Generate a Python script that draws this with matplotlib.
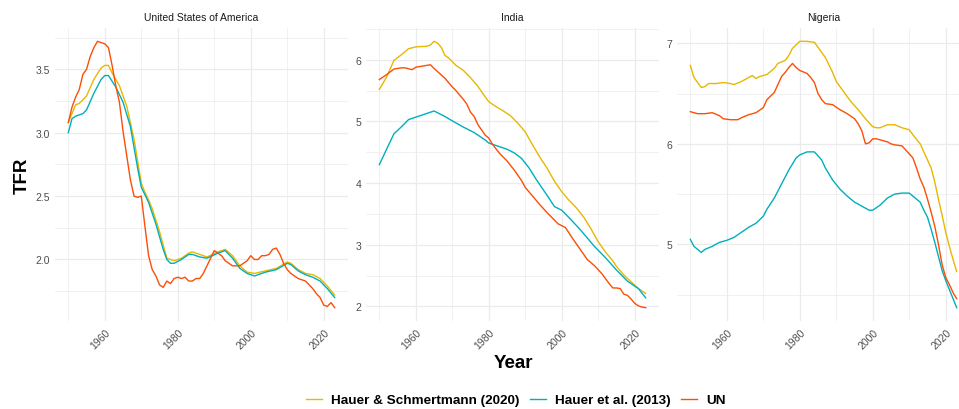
import matplotlib
matplotlib.use("Agg")
import matplotlib.pyplot as plt
from matplotlib.ticker import MultipleLocator
from matplotlib.lines import Line2D

plt.rcParams['font.family'] = ['Liberation Sans', 'DejaVu Sans']

# series names and colours
labels = ["Hauer & Schmertmann (2020)", "Hauer et al. (2013)", "UN"]
colors = ["#E7B800", "#00AFBB", "#FC4E07"]

###
# United States of America
###
usa_hs_years = [1950, 1952, 1953, 1955, 1957, 1959, 1960, 1961, 1962, 1964,
                1966, 1968, 1970, 1971, 1972, 1973, 1975, 1977, 1979, 1981,
                1983, 1984, 1986, 1988, 1991, 1993, 1995, 1997, 1999, 2001,
                2004, 2007, 2010, 2011, 2013, 2015, 2017, 2019, 2021, 2023]
usa_hs_tfr = [3.08, 3.22, 3.23, 3.29, 3.42, 3.51, 3.53, 3.53, 3.47, 3.37,
              3.21, 2.95, 2.60, 2.53, 2.47, 2.40, 2.22, 2.01, 1.99, 2.01,
              2.05, 2.06, 2.04, 2.02, 2.06, 2.08, 2.03, 1.95, 1.90, 1.89,
              1.91, 1.93, 1.98, 1.97, 1.92, 1.89, 1.88, 1.85, 1.79, 1.72]

usa_h13_years = [1950, 1951, 1952, 1954, 1955, 1957, 1959, 1960, 1961, 1963,
                 1965, 1967, 1969, 1970, 1972, 1974, 1976, 1977, 1978, 1979,
                 1981, 1983, 1984, 1986, 1988, 1991, 1993, 1995, 1997, 1999,
                 2001, 2004, 2007, 2010, 2011, 2013, 2015, 2017, 2019, 2021,
                 2023]
usa_h13_tfr = [3.00, 3.11, 3.13, 3.15, 3.18, 3.31, 3.42, 3.45, 3.45, 3.36,
               3.24, 3.05, 2.72, 2.57, 2.45, 2.28, 2.08, 2.00, 1.97, 1.97,
               2.00, 2.04, 2.04, 2.02, 2.01, 2.05, 2.07, 2.01, 1.93, 1.89,
               1.87, 1.90, 1.92, 1.97, 1.96, 1.91, 1.88, 1.86, 1.83, 1.77,
               1.70]

usa_un_years = list(range(1950, 2024))
usa_un_tfr = [3.08, 3.20, 3.28, 3.34, 3.46, 3.50, 3.60, 3.67, 3.72, 3.71,
              3.70, 3.67, 3.53, 3.37, 3.24, 3.01, 2.82, 2.63, 2.50, 2.49,
              2.50, 2.26, 2.03, 1.92, 1.87, 1.80, 1.78, 1.83, 1.81, 1.85,
              1.86, 1.85, 1.86, 1.83, 1.83, 1.85, 1.85, 1.89, 1.95, 2.01,
              2.07, 2.05, 2.03, 1.99, 1.97, 1.95, 1.95, 1.95, 1.97, 1.99,
              2.03, 2.00, 2.00, 2.03, 2.03, 2.04, 2.08, 2.09, 2.04, 1.97,
              1.92, 1.89, 1.87, 1.85, 1.84, 1.83, 1.80, 1.77, 1.73, 1.70,
              1.64, 1.63, 1.66, 1.62]

###
# India
###
ind_hs_years = [1950, 1952, 1954, 1956, 1958, 1960, 1963, 1964, 1965, 1966,
                1967, 1968, 1969, 1971, 1973, 1975, 1977, 1979, 1980, 1982,
                1984, 1986, 1988, 1990, 1992, 1994, 1996, 1998, 2000, 2002,
                2004, 2006, 2008, 2010, 2012, 2014, 2015, 2017, 2019, 2021,
                2023]
ind_hs_tfr = [5.52, 5.72, 5.99, 6.08, 6.18, 6.21, 6.22, 6.24, 6.30, 6.27,
              6.20, 6.07, 6.03, 5.91, 5.83, 5.71, 5.57, 5.40, 5.32, 5.24,
              5.17, 5.09, 4.97, 4.83, 4.62, 4.42, 4.24, 4.03, 3.86, 3.72,
              3.60, 3.45, 3.26, 3.05, 2.88, 2.74, 2.65, 2.51, 2.40, 2.29,
              2.21]

ind_h13_years = [1950, 1952, 1954, 1956, 1958, 1961, 1963, 1965, 1966, 1968,
                 1970, 1973, 1976, 1979, 1980, 1982, 1985, 1987, 1989, 1991,
                 1993, 1996, 1998, 2000, 2002, 2005, 2009, 2012, 2015, 2018,
                 2021, 2023]
ind_h13_tfr = [4.30, 4.55, 4.80, 4.91, 5.03, 5.09, 5.13, 5.17, 5.14, 5.08,
               5.01, 4.91, 4.82, 4.70, 4.65, 4.61, 4.55, 4.49, 4.40, 4.25,
               4.06, 3.80, 3.62, 3.56, 3.44, 3.25, 2.97, 2.79, 2.59, 2.41,
               2.29, 2.14]

ind_un_years = [1950, 1952, 1954, 1956, 1957, 1959, 1960, 1962, 1964, 1965,
                1968, 1970, 1971, 1973, 1974, 1975, 1976, 1977, 1979, 1980,
                1981, 1983, 1984, 1985, 1987, 1989, 1990, 1992, 1994, 1996,
                1998, 1999, 2001, 2003, 2005, 2007, 2009, 2011, 2012, 2013,
                2014, 2015, 2016, 2017, 2018, 2019, 2020, 2021, 2022, 2023]
ind_un_tfr = [5.68, 5.76, 5.85, 5.87, 5.87, 5.84, 5.88, 5.90, 5.92, 5.86,
              5.70, 5.56, 5.50, 5.36, 5.28, 5.15, 5.08, 4.95, 4.78, 4.73,
              4.63, 4.48, 4.42, 4.36, 4.21, 4.04, 3.93, 3.79, 3.65, 3.52,
              3.40, 3.34, 3.28, 3.10, 2.93, 2.76, 2.66, 2.53, 2.45, 2.37,
              2.30, 2.30, 2.29, 2.20, 2.18, 2.12, 2.05, 2.01, 1.99, 1.98]

###
# Nigeria
###
nga_hs_years = [1950, 1951, 1953, 1954, 1955, 1957, 1959, 1961, 1962, 1964,
                1965, 1967, 1968, 1969, 1971, 1973, 1974, 1976, 1977, 1978,
                1980, 1982, 1984, 1985, 1987, 1989, 1990, 1992, 1994, 1996,
                1998, 2000, 2001, 2002, 2004, 2006, 2008, 2010, 2011, 2013,
                2014, 2016, 2017, 2018, 2019, 2020, 2021, 2022, 2023]
nga_hs_tfr = [6.78, 6.66, 6.56, 6.57, 6.60, 6.60, 6.61, 6.60, 6.59, 6.62,
              6.64, 6.68, 6.65, 6.67, 6.69, 6.75, 6.80, 6.83, 6.88, 6.95,
              7.02, 7.02, 7.01, 6.96, 6.86, 6.71, 6.62, 6.52, 6.42, 6.34,
              6.25, 6.17, 6.16, 6.16, 6.19, 6.19, 6.16, 6.14, 6.09, 6.00,
              5.92, 5.76, 5.62, 5.45, 5.29, 5.12, 4.98, 4.85, 4.73]

nga_h13_years = [1950, 1951, 1953, 1954, 1956, 1958, 1960, 1962, 1964, 1966,
                 1968, 1970, 1971, 1973, 1975, 1977, 1979, 1980, 1982, 1984,
                 1986, 1987, 1989, 1991, 1993, 1995, 1997, 1999, 2000, 2002,
                 2004, 2006, 2008, 2010, 2012, 2013, 2014, 2015, 2016, 2017,
                 2018, 2019, 2020, 2021, 2022, 2023]
nga_h13_tfr = [5.05, 4.98, 4.92, 4.95, 4.98, 5.02, 5.04, 5.07, 5.12, 5.17,
               5.21, 5.28, 5.35, 5.46, 5.60, 5.74, 5.86, 5.89, 5.92, 5.92,
               5.84, 5.76, 5.64, 5.55, 5.48, 5.42, 5.38, 5.34, 5.34, 5.39,
               5.46, 5.50, 5.51, 5.51, 5.45, 5.42, 5.34, 5.27, 5.15, 5.02,
               4.88, 4.74, 4.64, 4.55, 4.46, 4.37]

nga_un_years = [1950, 1951, 1952, 1954, 1956, 1958, 1959, 1961, 1963, 1964,
                1966, 1968, 1970, 1971, 1973, 1974, 1975, 1976, 1977, 1978,
                1979, 1980, 1982, 1983, 1984, 1985, 1986, 1987, 1989, 1991,
                1993, 1995, 1996, 1997, 1998, 1999, 2000, 2001, 2002, 2004,
                2005, 2006, 2008, 2009, 2011, 2012, 2013, 2014, 2015, 2016,
                2017, 2018, 2019, 2020, 2021, 2022, 2023]
nga_un_tfr = [6.32, 6.31, 6.30, 6.30, 6.31, 6.28, 6.25, 6.24, 6.24, 6.26,
              6.29, 6.31, 6.36, 6.44, 6.51, 6.59, 6.67, 6.71, 6.76, 6.80,
              6.76, 6.73, 6.70, 6.66, 6.61, 6.50, 6.44, 6.40, 6.39, 6.34,
              6.30, 6.25, 6.20, 6.13, 6.00, 6.01, 6.05, 6.05, 6.04, 6.02,
              6.00, 5.99, 5.98, 5.94, 5.86, 5.76, 5.65, 5.57, 5.45, 5.32,
              5.18, 5.00, 4.80, 4.67, 4.60, 4.52, 4.46]

GRID = "#EBEBEB"


def draw_panel(ax, title, series, y_major, y_minor):
    # one facet: three lines, light grid, no frame
    for (years, tfr), color in zip(series, colors):
        ax.plot(years, tfr, color=color, linewidth=1.0)
    ax.margins(x=0.05, y=0.05)
    ax.xaxis.set_major_locator(MultipleLocator(20))
    ax.xaxis.set_minor_locator(MultipleLocator(10))
    ax.yaxis.set_major_locator(MultipleLocator(y_major))
    ax.yaxis.set_minor_locator(MultipleLocator(y_minor))
    ax.grid(which="major", color=GRID, linewidth=0.9)
    ax.grid(which="minor", color=GRID, linewidth=0.5)
    ax.set_axisbelow(True)
    for side in ax.spines:
        ax.spines[side].set_visible(False)
    ax.tick_params(which="both", length=0)
    ax.tick_params(axis="y", labelsize=7.5, labelcolor="#4D4D4D", pad=3.5)
    ax.tick_params(axis="x", labelsize=7.5, labelcolor="#4D4D4D", pad=4)
    for lab in ax.get_xticklabels():
        lab.set_rotation(45)
        lab.set_ha("right")
        lab.set_va("top")
        lab.set_rotation_mode("anchor")
    ax.text(0.5, 1 + 11 / 293, title, transform=ax.transAxes,
            ha="center", va="center", fontsize=7.5, color="#1A1A1A")


def main():
    fig = plt.figure(figsize=(9.59, 4.10), dpi=100)
    W, H = 959.0, 410.0
    bottom = 1 - 322 / H
    height = 293 / H
    width = 293 / W

    ax1 = fig.add_axes([55 / W, bottom, width, height])
    ax2 = fig.add_axes([366 / W, bottom, width, height])
    ax3 = fig.add_axes([677 / W, bottom, width, height])

    draw_panel(ax1, "United States of America",
               [(usa_hs_years, usa_hs_tfr), (usa_h13_years, usa_h13_tfr),
                (usa_un_years, usa_un_tfr)], 0.5, 0.25)
    draw_panel(ax2, "India",
               [(ind_hs_years, ind_hs_tfr), (ind_h13_years, ind_h13_tfr),
                (ind_un_years, ind_un_tfr)], 1, 0.5)
    draw_panel(ax3, "Nigeria",
               [(nga_hs_years, nga_hs_tfr), (nga_h13_years, nga_h13_tfr),
                (nga_un_years, nga_un_tfr)], 1, 0.5)

    fig.text(22 / W, 1 - 175.5 / H, "TFR", rotation=90, ha="center",
             va="center", fontsize=13.5, fontweight="bold")
    fig.text(513 / W, 1 - 368 / H, "Year", ha="center", va="baseline",
             fontsize=13.5, fontweight="bold")

    handles = [Line2D([], [], color=c, linewidth=1.0) for c in colors]
    fig.legend(handles, labels, loc="center",
               bbox_to_anchor=(516 / W, 1 - 401 / H), ncol=3,
               frameon=False, handlelength=1.15, handletextpad=0.7,
               columnspacing=0.8, prop={"size": 9.7, "weight": "bold"})

    fig.savefig("out.png", dpi=100, facecolor="white")


if __name__ == "__main__":
    main()
